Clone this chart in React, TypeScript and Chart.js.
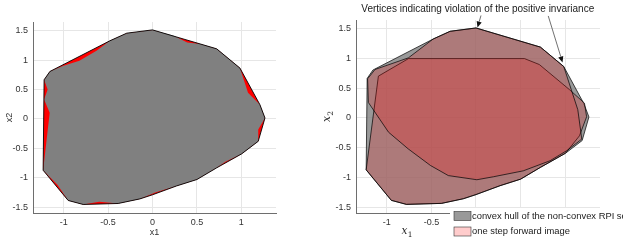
import React, { useEffect, useRef } from 'react';
import { Chart, registerables } from 'chart.js';

Chart.register(...registerables);

// ---- axes ----
const xTicks = [-1, -0.5, 0, 0.5, 1];
const yTicks = [-1.5, -1, -0.5, 0, 0.5, 1, 1.5];
const xRange = [-1.345, 1.39];
const yRange = [-1.6, 1.65];

// ---- convex hull of the non-convex RPI set ----
const hullX = [0, -0.29, -0.48, -1.155, -1.22, -1.231, -0.949, -0.78, -0.386, -0.142, 0.0, 0.27, 0.5, 0.722, 1.003, 1.19, 1.266, 1.209, 0.984, 0.722, 0];
const hullY = [1.516, 1.46, 1.33, 0.808, 0.667, -0.873, -1.387, -1.455, -1.438, -1.36, -1.29, -1.14, -1.03, -0.832, -0.594, -0.38, 0.017, 0.243, 0.866, 1.194, 1.516];

// ---- non-convex RPI set ----
const setX = [0, -0.29, -0.48, -0.63, -0.823, -1.01, -1.155, -1.22, -1.18, -1.22, -1.157, -1.231, -1.07, -0.949, -0.78, -0.6, -0.386, -0.142, 0.03, 0.27, 0.5, 0.722, 0.82, 1.003, 1.19, 1.19, 1.266, 1.209, 1.075, 0.984, 0.722, 0.54, 0.39, 0.24, 0];
const setY = [1.516, 1.46, 1.33, 1.16, 0.99, 0.9, 0.808, 0.667, 0.5, 0.33, 0.106, -0.873, -1.12, -1.387, -1.455, -1.41, -1.438, -1.36, -1.25, -1.14, -1.03, -0.832, -0.73, -0.594, -0.38, -0.18, 0.017, 0.243, 0.448, 0.866, 1.194, 1.275, 1.30, 1.415, 1.516];

// ---- one step forward image (two pieces) ----
const imageAX = [-0.757, -1.094, -1.231, -0.949, -0.78, -0.386, -0.142, 0.0, 0.27, 0.5, 0.722, 1.003, 1.16, 1.24, 1.216, 1.048, 0.71, 0.544, -0.757];
const imageAY = [1.0, 0.705, -0.873, -1.387, -1.455, -1.438, -1.36, -1.29, -1.14, -1.03, -0.832, -0.594, -0.3, 0.02, 0.25, 0.477, 0.9, 1.0, 1.0];
const imageBX = [0, -0.29, -0.48, -0.757, -1.131, -1.215, -1.206, -0.98, -0.76, -0.51, -0.31, 0.01, 0.195, 0.53, 0.83, 1.018, 1.186, 1.141, 0.984, 0.722, 0];
const imageBY = [1.516, 1.46, 1.33, 1.013, 0.817, 0.66, 0.26, -0.24, -0.52, -0.8, -0.97, -1.04, -0.99, -0.89, -0.72, -0.55, -0.355, 0.14, 0.866, 1.194, 1.516];

// ---- annotation ----
const annotationText = 'Vertices indicating violation of the positive invariance';
const annotationX = 0.02;
const annotationY = 1.83;
const arrowTailX = [0.056, 0.81];
const arrowTailY = [1.726, 1.718];
const arrowTipX = [0.017, 0.97];
const arrowTipY = [1.524, 0.936];

const legendLabels = ['convex hull of the non-convex RPI set', 'one step forward image'];
const legendColors = ['rgb(153,153,153)', 'rgb(255,204,204)'];

const FONT = '"Liberation Sans", Arial, Helvetica, sans-serif';
const GRID = '#e6e6e6';
const AXIS = '#6e6e6e';
const TICK = '#333333';

const pts = (xs: number[], ys: number[]) => xs.map((x, i) => ({ x, y: ys[i] }));

function makeScales(yWidth: number, xTitle: any, yTitle: any) {
  const common = {
    type: 'linear',
    grid: { color: GRID, lineWidth: 1, drawTicks: false },
    border: { display: true, color: AXIS, width: 1 },
  };
  return {
    x: {
      ...common,
      min: xRange[0],
      max: xRange[1],
      afterBuildTicks: (s: any) => { s.ticks = xTicks.map((v) => ({ value: v })); },
      afterFit: (s: any) => { s.height = 28; },
      ticks: { padding: 4, color: TICK, font: { family: FONT, size: 9 }, autoSkip: false, maxRotation: 0, callback: (v: any) => String(v) },
      title: xTitle,
    },
    y: {
      ...common,
      min: yRange[0],
      max: yRange[1],
      afterBuildTicks: (s: any) => { s.ticks = yTicks.map((v) => ({ value: v })); },
      afterFit: (s: any) => { s.width = yWidth; },
      ticks: { padding: 5, color: TICK, font: { family: FONT, size: 9 }, autoSkip: false, callback: (v: any) => String(v) },
      title: yTitle,
    },
  };
}

const poly = (xs: number[], ys: number[], fillColor: string | null, border: string | null, bw = 0.8) => ({
  data: pts(xs, ys),
  showLine: true,
  pointRadius: 0,
  tension: 0,
  fill: fillColor ? 'shape' : false,
  backgroundColor: fillColor || 'rgba(0,0,0,0)',
  borderColor: border || 'rgba(0,0,0,0)',
  borderWidth: border ? bw : 0,
});

function drawMath(ctx: any, cx: number, cy: number, base: string, sub: string, rotate: boolean) {
  ctx.save();
  ctx.translate(cx, cy);
  if (rotate) ctx.rotate(-Math.PI / 2);
  const baseFont = 'italic 10.5px "DejaVu Serif", "Liberation Serif", serif';
  const subFont = '7.5px "DejaVu Serif", "Liberation Serif", serif';
  ctx.font = baseFont;
  const w1 = ctx.measureText(base).width;
  ctx.font = subFont;
  const w2 = ctx.measureText(sub).width;
  const w = w1 + w2 + 0.5;
  ctx.fillStyle = '#262626';
  ctx.textBaseline = 'alphabetic';
  ctx.textAlign = 'left';
  ctx.font = baseFont;
  ctx.fillText(base, -w / 2, 2);
  ctx.font = subFont;
  ctx.fillText(sub, -w / 2 + w1 + 0.5, 4.5);
  ctx.restore();
}

const rightExtras = {
  id: 'rightExtras',
  afterDraw(chart: any) {
    const { ctx, chartArea } = chart;
    const xs = chart.scales.x;
    const ys = chart.scales.y;
    ctx.save();
    // annotation text
    ctx.font = `10px ${FONT}`;
    ctx.fillStyle = '#1a1a1a';
    ctx.textAlign = 'center';
    ctx.textBaseline = 'middle';
    ctx.fillText(annotationText, xs.getPixelForValue(annotationX), ys.getPixelForValue(annotationY));
    // arrows
    for (let i = 0; i < arrowTailX.length; i++) {
      const x0 = xs.getPixelForValue(arrowTailX[i]);
      const y0 = ys.getPixelForValue(arrowTailY[i]);
      const x1 = xs.getPixelForValue(arrowTipX[i]);
      const y1 = ys.getPixelForValue(arrowTipY[i]);
      const a = Math.atan2(y1 - y0, x1 - x0);
      const L = 6;
      const W = 2.6;
      ctx.strokeStyle = '#333';
      ctx.lineWidth = 0.7;
      ctx.beginPath();
      ctx.moveTo(x0, y0);
      ctx.lineTo(x1 - L * Math.cos(a), y1 - L * Math.sin(a));
      ctx.stroke();
      ctx.fillStyle = '#111';
      ctx.beginPath();
      ctx.moveTo(x1, y1);
      ctx.lineTo(x1 - L * Math.cos(a) + W * Math.sin(a), y1 - L * Math.sin(a) - W * Math.cos(a));
      ctx.lineTo(x1 - L * Math.cos(a) - W * Math.sin(a), y1 - L * Math.sin(a) + W * Math.cos(a));
      ctx.closePath();
      ctx.fill();
    }
    // axis labels
    drawMath(ctx, chartArea.left + 51, chart.height - 9, 'x', '1', false);
    drawMath(ctx, 28, (chartArea.top + chartArea.bottom) / 2, 'x', '2', true);
    // legend
    const lx = chartArea.left + 94;
    const ly = 208;
    ctx.fillStyle = '#ffffff';
    ctx.fillRect(lx, ly, chart.width - lx, chart.height - ly);
    const rows = [211.5, 227];
    for (let i = 0; i < legendLabels.length; i++) {
      ctx.fillStyle = legendColors[i];
      ctx.fillRect(lx + 4, rows[i], 17, 9);
      ctx.strokeStyle = '#333';
      ctx.lineWidth = 0.6;
      ctx.strokeRect(lx + 4, rows[i], 17, 9);
      ctx.fillStyle = '#1a1a1a';
      ctx.font = `9.4px ${FONT}`;
      ctx.textAlign = 'left';
      ctx.textBaseline = 'middle';
      ctx.fillText(legendLabels[i], lx + 22, rows[i] + 4.8);
    }
    ctx.restore();
  },
};

export default function App() {
  const leftRef = useRef<HTMLCanvasElement>(null);
  const rightRef = useRef<HTMLCanvasElement>(null);

  useEffect(() => {
    const left = new Chart(leftRef.current as HTMLCanvasElement, {
      type: 'line',
      data: {
        datasets: [
          poly(hullX, hullY, null, '#000000', 0.9),
          poly(setX, setY, '#808080', null),
          poly(hullX, hullY, '#ff0000', null),
        ] as any,
      },
      options: {
        responsive: false,
        animation: false,
        events: [],
        layout: { padding: { top: 22, right: 24, left: 0, bottom: 0 } },
        plugins: { legend: { display: false }, tooltip: { enabled: false } },
        scales: makeScales(
          33,
          { display: true, text: 'x1', color: '#333', font: { family: FONT, size: 9 }, padding: { top: 0, bottom: 3.5 } },
          { display: true, text: 'x2', color: '#333', font: { family: FONT, size: 9 }, padding: { top: 4.6, bottom: 0 } }
        ) as any,
      },
    });
    const right = new Chart(rightRef.current as HTMLCanvasElement, {
      type: 'line',
      data: {
        datasets: [
          poly(imageBX, imageBY, 'rgba(255,0,0,0.2)', '#000000', 0.7),
          poly(imageAX, imageAY, 'rgba(255,0,0,0.2)', '#000000', 0.7),
          poly(hullX, hullY, 'rgba(128,128,128,0.8)', '#000000', 0.7),
        ] as any,
      },
      options: {
        responsive: false,
        animation: false,
        events: [],
        layout: { padding: { top: 20, right: 40, left: 0, bottom: 0 } },
        plugins: { legend: { display: false }, tooltip: { enabled: false } },
        scales: makeScales(56, { display: false }, { display: false }) as any,
      },
      plugins: [rightExtras],
    });
    return () => {
      left.destroy();
      right.destroy();
    };
  }, []);

  return (
    <div style={{ position: 'fixed', left: 0, top: 0, width: 623, height: 241, overflow: 'hidden', background: '#fff' }}>
      <canvas ref={leftRef} width={300} height={241} style={{ position: 'absolute', left: 0, top: 0, display: 'block' }} />
      <canvas ref={rightRef} width={340} height={241} style={{ position: 'absolute', left: 300, top: 0, display: 'block' }} />
    </div>
  );
}
